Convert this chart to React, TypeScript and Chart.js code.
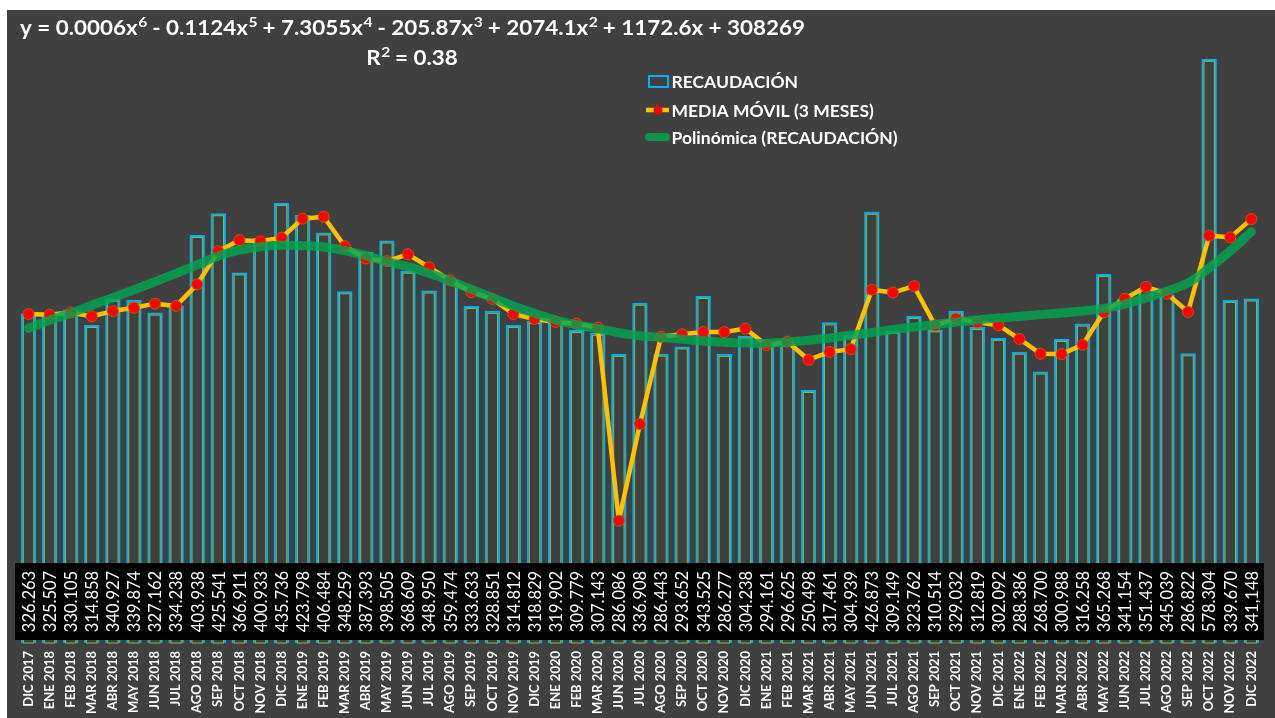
import React, { useEffect, useRef } from "react";
import { Chart, registerables } from "chart.js";

Chart.register(...registerables);

const months = [
  "DIC 2017", "ENE 2018", "FEB 2018", "MAR 2018", "ABR 2018", "MAY 2018", "JUN 2018", "JUL 2018",
  "AGO 2018", "SEP 2018", "OCT 2018", "NOV 2018", "DIC 2018", "ENE 2019", "FEB 2019", "MAR 2019",
  "ABR 2019", "MAY 2019", "JUN 2019", "JUL 2019", "AGO 2019", "SEP 2019", "OCT 2019", "NOV 2019",
  "DIC 2019", "ENE 2020", "FEB 2020", "MAR 2020", "JUN 2020", "JUL 2020", "AGO 2020", "SEP 2020",
  "OCT 2020", "NOV 2020", "DIC 2020", "ENE 2021", "FEB 2021", "MAR 2021", "ABR 2021", "MAY 2021",
  "JUN 2021", "JUL 2021", "AGO 2021", "SEP 2021", "OCT 2021", "NOV 2021", "DIC 2021", "ENE 2022",
  "FEB 2022", "MAR 2022", "ABR 2022", "MAY 2022", "JUN 2022", "JUL 2022", "AGO 2022", "SEP 2022",
  "OCT 2022", "NOV 2022", "DIC 2022",
];

const recaudacion = [
  326263, 325507, 330105, 314858, 340927, 339874, 327162, 334238,
  403938, 425541, 366911, 400933, 435736, 423798, 406484, 348259,
  387393, 398505, 368609, 348950, 359474, 333633, 328851, 314812,
  318829, 319902, 309779, 307143, 286086, 336908, 286443, 293652,
  343525, 286277, 304238, 294161, 296625, 250498, 317461, 304939,
  426873, 309149, 323762, 310514, 329032, 312819, 302092, 288386,
  268700, 300988, 316258, 365268, 341154, 351437, 345039, 286822,
  578304, 339670, 341148,
];

const tableLabels = [
  "326.263", "325.507", "330.105", "314.858", "340.927", "339.874", "327.162", "334.238",
  "403.938", "425.541", "366.911", "400.933", "435.736", "423.798", "406.484", "348.259",
  "387.393", "398.505", "368.609", "348.950", "359.474", "333.633", "328.851", "314.812",
  "318.829", "319.902", "309.779", "307.143", "286.086", "336.908", "286.443", "293.652",
  "343.525", "286.277", "304.238", "294.161", "296.625", "250.498", "317.461", "304.939",
  "426.873", "309.149", "323.762", "310.514", "329.032", "312.819", "302.092", "288.386",
  "268.700", "300.988", "316.258", "365.268", "341.154", "351.437", "345.039", "286.822",
  "578.304", "339.670", "341,148",
];

const mediaMovil = [
  325700, 325000, 327290, 323490, 328630, 331890, 335990, 333760,
  355110, 387910, 398800, 397800, 401190, 420160, 422010, 392850,
  380710, 378050, 384840, 372020, 359010, 347350, 340650, 325770,
  320830, 317850, 316170, 312270, 121100, 216800, 303150, 305670,
  307870, 307820, 311350, 294890, 298340, 280430, 288190, 290970,
  349760, 346990, 353260, 314480, 321100, 317460, 314650, 301100,
  286390, 286020, 295320, 327500, 340890, 352620, 345880, 327770,
  403390, 401600, 419710,
];

const polinomica = [
  311600, 319500, 326400, 334400, 341900, 349800, 357700, 366000,
  374300, 383200, 389100, 392400, 393800, 393400, 392100, 388400,
  383500, 377500, 372600, 366000, 358400, 350200, 341900, 333700,
  326400, 319800, 314900, 311200, 307200, 304300, 302700, 300700,
  299000, 297700, 297000, 296700, 298000, 299700, 302000, 304700,
  307400, 310400, 312900, 315300, 317800, 319800, 321800, 323300,
  325200, 326700, 328700, 331200, 335600, 341600, 348500, 356400,
  371300, 388100, 407200,
];

const equationParts: [string, string][] = [
  ["y = 0.0006x", "6"],
  [" - 0.1124x", "5"],
  [" + 7.3055x", "4"],
  [" - 205.87x", "3"],
  [" + 2074.1x", "2"],
  [" + 1172.6x + 308269", ""],
];
const r2Parts: [string, string][] = [
  ["R", "2"],
  [" = 0.38", ""],
];
const legendLabels = ["RECAUDACIÓN", "MEDIA MÓVIL (3 MESES)", "Polinómica (RECAUDACIÓN)"];

const BG = "#404040";
const CYAN = "#00B0F0";
const LIGHT_GREEN = "rgba(146,208,80,0.85)";
const GOLD = "#FFC000";
const RED = "#FF0000";
const TREND = "rgba(0,166,80,0.82)";
const FONT = "Lato, 'Open Sans', sans-serif";

function richWidth(ctx: CanvasRenderingContext2D, parts: [string, string][], size: number) {
  let w = 0;
  for (const [base, sup] of parts) {
    ctx.font = `bold ${size}px ${FONT}`;
    w += ctx.measureText(base).width;
    if (sup) {
      ctx.font = `bold ${Math.round(size * 0.68)}px ${FONT}`;
      w += ctx.measureText(sup).width;
    }
  }
  return w;
}

function drawRich(
  ctx: CanvasRenderingContext2D,
  parts: [string, string][],
  cx: number,
  cy: number,
  size: number,
  sx: number
) {
  const total = richWidth(ctx, parts, size);
  ctx.save();
  ctx.translate(cx, cy);
  ctx.scale(sx, 1);
  ctx.fillStyle = "#FFFFFF";
  ctx.textBaseline = "middle";
  ctx.textAlign = "left";
  let x = -total / 2;
  for (const [base, sup] of parts) {
    ctx.font = `bold ${size}px ${FONT}`;
    ctx.fillText(base, x, 0);
    x += ctx.measureText(base).width;
    if (sup) {
      ctx.font = `bold ${Math.round(size * 0.68)}px ${FONT}`;
      ctx.fillText(sup, x + 0.5, -size * 0.3);
      x += ctx.measureText(sup).width;
    }
  }
  ctx.restore();
}

const decorPlugin = {
  id: "decor",
  beforeDraw(chart: any) {
    const { ctx, width, height } = chart;
    ctx.save();
    ctx.fillStyle = BG;
    ctx.fillRect(0, 0, width, height);
    ctx.restore();
  },
  afterDatasetDraw(chart: any, args: any) {
    if (args.index !== 0) return;
    const { ctx } = chart;
    const meta = chart.getDatasetMeta(0);
    ctx.save();
    ctx.strokeStyle = LIGHT_GREEN;
    ctx.lineWidth = 1;
    meta.data.forEach((el: any) => {
      const p = el.getProps(["x", "y", "base", "width"], true);
      ctx.strokeRect(p.x - p.width / 2 + 2.5, p.y + 2.5, p.width - 5, p.base - p.y - 2.5);
    });
    ctx.restore();
  },
  afterDatasetsDraw(chart: any) {
    const { ctx, chartArea } = chart;
    const xScale = chart.scales.x;
    ctx.save();
    ctx.fillStyle = "#000000";
    const top = chartArea.bottom - 80;
    const bottom = chartArea.bottom - 3;
    ctx.fillRect(chartArea.left - 3, top, chartArea.right - chartArea.left + 5, bottom - top);
    ctx.fillStyle = "#FFFFFF";
    ctx.font = `16.5px ${FONT}`;
    ctx.textAlign = "center";
    ctx.textBaseline = "middle";
    const cy = (top + bottom) / 2;
    tableLabels.forEach((t, i) => {
      const x = xScale.getPixelForValue(i);
      ctx.save();
      ctx.translate(x + 1, cy);
      ctx.rotate(-Math.PI / 2);
      ctx.fillText(t, 0, 0);
      ctx.restore();
    });
    ctx.restore();
  },
  afterDraw(chart: any) {
    const { ctx } = chart;
    // trendline equation
    const size = 20;
    const w = richWidth(ctx, equationParts, size);
    const sx = 785 / w;
    drawRich(ctx, equationParts, 405.5, 18.5, size, sx);
    drawRich(ctx, r2Parts, 405, 48.5, size, sx);

    // legend
    ctx.save();
    ctx.font = `bold 17.5px ${FONT}`;
    ctx.fillStyle = "#FFFFFF";
    ctx.textBaseline = "middle";
    ctx.textAlign = "left";
    const tx = 664.5;
    const ys = [71.5, 100, 127];
    ctx.strokeStyle = CYAN;
    ctx.lineWidth = 2;
    ctx.strokeRect(642, 66, 19, 11);
    ctx.strokeStyle = GOLD;
    ctx.lineWidth = 4.5;
    ctx.beginPath();
    ctx.moveTo(639, ys[1]);
    ctx.lineTo(662, ys[1]);
    ctx.stroke();
    ctx.fillStyle = RED;
    ctx.beginPath();
    ctx.arc(651, ys[1], 4.5, 0, Math.PI * 2);
    ctx.fill();
    ctx.strokeStyle = TREND;
    ctx.lineWidth = 8;
    ctx.lineCap = "round";
    ctx.beginPath();
    ctx.moveTo(642, ys[2]);
    ctx.lineTo(659, ys[2]);
    ctx.stroke();
    ctx.fillStyle = "#FFFFFF";
    legendLabels.forEach((t, i) => ctx.fillText(t, tx, ys[i] + 1));
    ctx.restore();
  },
};

export default function App() {
  const ref = useRef<HTMLCanvasElement | null>(null);

  useEffect(() => {
    if (!ref.current) return;
    const chart = new Chart(ref.current, {
      type: "bar",
      data: {
        labels: months,
        datasets: [
          {
            type: "bar",
            label: legendLabels[0],
            data: recaudacion,
            backgroundColor: "rgba(0,0,0,0)",
            borderColor: CYAN,
            borderWidth: 2,
            barPercentage: 0.73,
            categoryPercentage: 1,
            order: 2,
          },
          {
            type: "line",
            label: legendLabels[1],
            data: mediaMovil,
            borderColor: GOLD,
            borderWidth: 4.5,
            borderJoinStyle: "round",
            borderCapStyle: "round",
            tension: 0,
            pointRadius: 5.5,
            pointBackgroundColor: RED,
            pointBorderColor: "rgba(200,90,0,0.9)",
            pointBorderWidth: 1,
            order: 1,
          },
          {
            type: "line",
            label: legendLabels[2],
            data: polinomica,
            borderColor: TREND,
            borderWidth: 9,
            borderCapStyle: "round",
            borderJoinStyle: "round",
            tension: 0.4,
            pointRadius: 0,
            order: 0,
          },
        ],
      } as any,
      options: {
        responsive: false,
        animation: false,
        layout: { padding: { left: 11, right: 9, top: 27, bottom: 0 } },
        plugins: {
          legend: { display: false },
          tooltip: { enabled: false },
          title: { display: false },
        },
        scales: {
          x: {
            grid: { display: false, drawTicks: false },
            border: { display: false },
            ticks: {
              color: "#FFFFFF",
              font: { family: FONT, weight: "bold", size: 13 },
              maxRotation: 90,
              minRotation: 90,
              autoSkip: false,
              padding: 8,
            },
            afterFit: (s: any) => {
              s.height = 97;
            },
          },
          y: {
            display: false,
            min: 0,
            max: 600000,
          },
        },
      } as any,
      plugins: [decorPlugin],
    });
    return () => chart.destroy();
  }, []);

  return (
    <div
      style={{
        position: "absolute",
        left: 7,
        top: 10,
        width: 1268,
        height: 708,
        overflow: "hidden",
      }}
    >
      <canvas ref={ref} width={1268} height={730} style={{ display: "block" }} />
    </div>
  );
}
